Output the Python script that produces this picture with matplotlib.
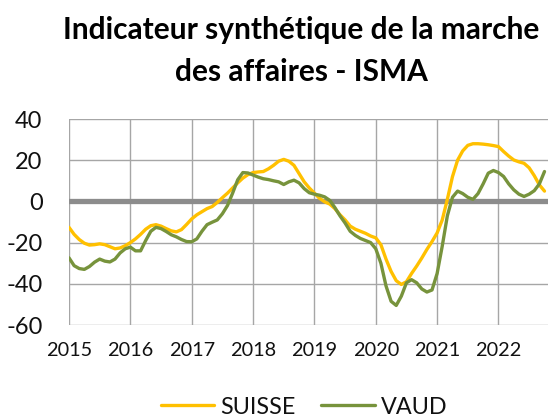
import matplotlib
matplotlib.use("Agg")
import matplotlib.pyplot as plt
import numpy as np

plt.rcParams['font.family'] = ['Lato', 'DejaVu Sans']

start_year = 2015
years = [2015, 2016, 2017, 2018, 2019, 2020, 2021, 2022]
yticks = [-60, -40, -20, 0, 20, 40]

suisse = [-12.6, -16, -18.5, -20.3, -21.2, -21, -20.6, -21, -22, -23, -22.6, -21.5,
          -20, -18.2, -16, -13.5, -11.8, -11.3, -12, -13.2, -14.3, -14.8, -13.7, -11.2,
          -8.5, -6.5, -5, -3.5, -2.5, -0.5, 1.8, 4, 6.5, 9, 11.3, 13,
          14, 14.3, 14.5, 15.8, 17.5, 19.5, 20.4, 19.5, 17.5, 13.5, 9.5, 6.5,
          4, 1.5, -0.2, -1.3, -3.5, -6.5, -9, -12, -13.5, -14.5, -15.5, -16.8,
          -17.7, -21, -28, -34, -38.5, -40.3, -39, -35, -31.4, -27.5, -23.3, -19.5,
          -15.3, -9, 1, 12, 20, 24.5, 27.2, 28, 28, 27.8, 27.5, 27.1,
          26.6, 24.2, 22, 20.1, 19.2, 18.5, 16.3, 12.5, 8, 5]

vaud = [-27.4, -31.2, -32.6, -33, -31.6, -29.5, -28, -29, -29.4, -28, -25, -23,
        -22.2, -24, -24, -19, -14.5, -12.6, -13.2, -14.6, -16.2, -17.2, -18.5, -19.5,
        -19.6, -18.2, -14.5, -11.3, -10.1, -9, -6, -2, 4, 10.5, 14, 13.8,
        12.8, 11.8, 11, 10.6, 10, 9.5, 8.2, 9.5, 10.3, 9, 6.2, 4.2,
        3.5, 3, 2.2, 0.5, -3, -7, -10.5, -14.5, -16.5, -18, -19, -20,
        -23, -30, -41, -48.5, -50.5, -46, -39.5, -38, -39.5, -42.5, -44, -43,
        -35, -21.7, -7, 2, 5, 3.8, 2, 1, 3.8, 8.5, 13.7, 15,
        14, 12.1, 8.5, 5.6, 3.5, 2.4, 3.5, 5.2, 8.5, 14.5]

x = start_year + np.arange(len(suisse)) / 12.0

fig = plt.figure(figsize=(5.48, 4.17), dpi=100)
ax = fig.add_axes([69/548, 1 - 325/417, 1 - 69/548 + 0.002, (325 - 119)/417])

grid_col = '#A6A6A6'
for yv in yticks:
    if yv != 0:
        ax.axhline(yv, color=grid_col, lw=1.0, zorder=1)
for xv in years:
    ax.axvline(xv, color=grid_col, lw=1.0, zorder=1)
ax.axhline(0, color='#8C8C8C', lw=3.8, zorder=2)

ax.plot(x, suisse, color='#FFC000', lw=2.4, label='SUISSE', zorder=3, solid_capstyle='round')
ax.plot(x, vaud, color='#77933C', lw=2.4, label='VAUD', zorder=4, solid_capstyle='round')

ax.set_xlim(2015, 2015 + 93.9/12)
ax.set_ylim(-60, 40)
ax.set_xticks(years)
ax.set_xticklabels([str(y) for y in years], fontsize=14.3, color='#111111')
ax.set_yticks(yticks)
ax.set_yticklabels([str(v) for v in yticks], fontsize=17, color='#111111')
ax.tick_params(axis='both', length=0)
ax.tick_params(axis='x', pad=12)
ax.tick_params(axis='y', pad=19)
for s in ax.spines.values():
    s.set_visible(False)

fig.text(301/548, 1 - 30/417, 'Indicateur synthétique de la marche',
         ha='center', va='center', fontsize=21.5, fontweight='bold', color='#000000')
fig.text(301/548, 1 - 72/417, 'des affaires - ISMA',
         ha='center', va='center', fontsize=21.5, fontweight='bold', color='#000000')

fig.legend(loc='center', bbox_to_anchor=(304/548, 1 - 407/417), ncol=2, frameon=False,
           fontsize=16.8, handlelength=2.3, handletextpad=0.25, columnspacing=1.1,
           borderpad=0, borderaxespad=0, labelcolor='#111111')

fig.savefig('out.png', dpi=100)
